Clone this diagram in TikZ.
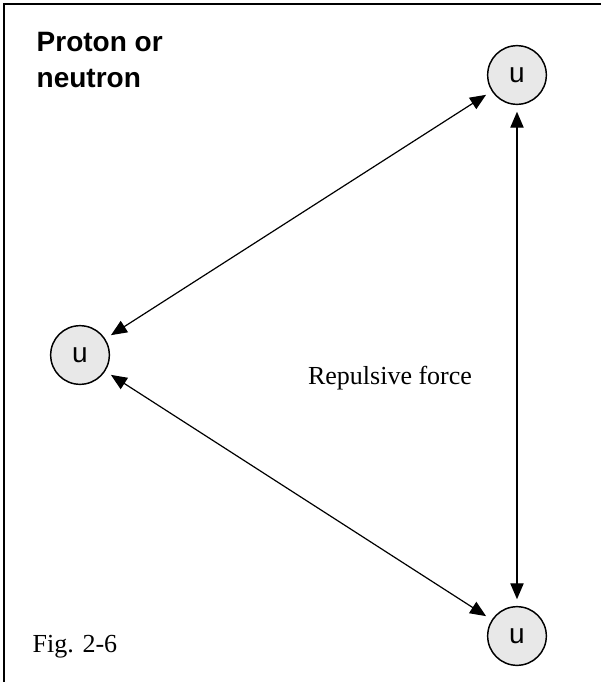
\documentclass[tikz,border=0pt]{standalone}
\usepackage{fontspec}
\setmainfont{Liberation Serif}
\setsansfont{Liberation Sans}
\usetikzlibrary{arrows.meta}
\newcommand{\ArrTip}{Triangle[length=12pt,width=10pt]}
\tikzset{quark/.style={circle,draw,line width=1.1pt,fill=black!9,minimum size=44pt,inner sep=0pt,font=\sffamily\fontsize{21}{21}\selectfont}}
\tikzset{force/.style={{\ArrTip}-{\ArrTip},line width=0.9pt,shorten <=5pt,shorten >=5pt}}

\begin{document}
\begin{tikzpicture}[x=0.75pt,y=-0.75pt]
\useasboundingbox(0,0)rectangle(601,682);
\draw[line width=1.2pt](4,682)--(4,4)--(601,4);
\node[quark](uT)at(517,75){u};\node[quark](uL)at(80,355){u};\node[quark](uB)at(517,636){u};
\draw[force](uL)--(uT);\draw[force](uL)--(uB);\draw[force](uT.south)--(uB.north);
\node[anchor=north west,align=left,font=\sffamily\bfseries\fontsize{21}{27}\selectfont](title)at(32,28){Proton or\\neutron};
\node[font=\fontsize{19.5}{23}\selectfont](rep)at(390,378){Repulsive force};
\node[anchor=base west,font=\fontsize{19.5}{23}\selectfont](fig)at(28,652){Fig. 2-6};
\end{tikzpicture}
\end{document}
